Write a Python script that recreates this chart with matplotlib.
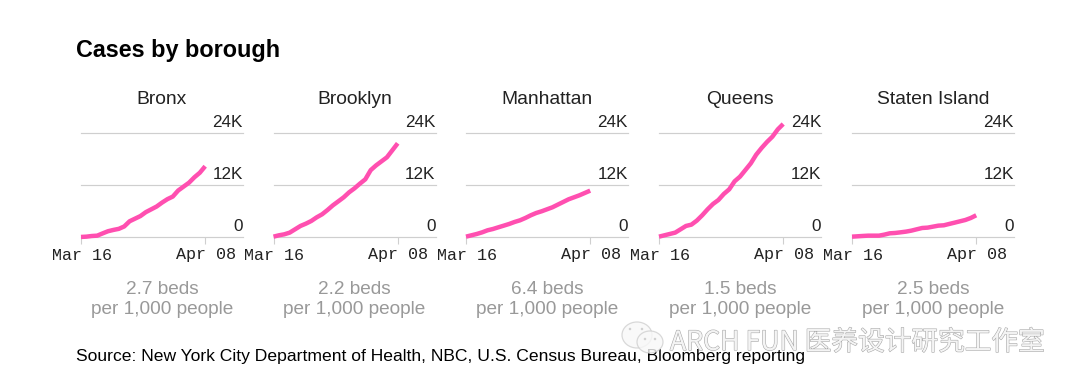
import matplotlib
matplotlib.use("Agg")
import matplotlib.pyplot as plt
import matplotlib.patheffects as pe
from matplotlib.patches import Ellipse

# daily cumulative cases, Mar 16 to Apr 08
days = list(range(24))
boroughs = ["Bronx", "Brooklyn", "Manhattan", "Queens", "Staten Island"]
bronx = [80, 150, 300, 380, 900, 1400, 1700, 1950, 2500, 3700, 4300, 4900, 5800,
         6450, 7100, 8000, 8800, 9400, 10800, 11700, 12600, 13850, 14900, 16400]
brooklyn = [150, 460, 690, 1080, 1850, 2620, 3150, 3770, 4610, 5310, 6300, 7380,
            8300, 9230, 10380, 11300, 12380, 13380, 15500, 16600, 17530, 18460, 20070, 21690]
manhattan = [150, 460, 770, 1150, 1620, 1920, 2310, 2690, 3080, 3540, 3920, 4460,
             5080, 5610, 6000, 6460, 6920, 7540, 8150, 8770, 9230, 9690, 10230, 10770]
queens = [150, 460, 770, 1080, 1850, 2620, 2920, 3850, 5080, 6460, 7690, 8610, 10000,
          11070, 12920, 14000, 15530, 17070, 19070, 20610, 22000, 23220, 24910, 26150]
staten = [150, 230, 310, 380, 380, 380, 620, 920, 1000, 1150, 1310, 1540, 1850,
          2150, 2230, 2460, 2690, 2770, 3080, 3380, 3690, 4000, 4460, 5080]
series = [bronx, brooklyn, manhattan, queens, staten]
beds = ["2.7 beds", "2.2 beds", "6.4 beds", "1.5 beds", "2.5 beds"]
yticks = [0, 12000, 24000]
ytick_labels = ["0", "12K", "24K"]
x_labels = ["Mar 16", "Apr 08"]
title = "Cases by borough"
source = "Source: New York City Department of Health, NBC, U.S. Census Bureau, Bloomberg reporting"
watermark = "ARCH FUN 医养设计研究工作室"

W, H = 1080, 388
SANS = "Liberation Sans"
MONO = "Liberation Mono"
PINK = "#ff4fb0"
GRID = "#cfcfcf"


def fx(px):
    return px / W


def fy(px):
    return 1 - px / H


def main():
    fig = plt.figure(figsize=(W / 100, H / 100), dpi=100, facecolor="white")

    fig.text(fx(76), fy(50.5), title, fontsize=16.8, fontweight="bold", family=SANS,
             color="black", va="center", ha="left")

    lefts = [81, 273.5, 466, 659, 852]
    for i, left in enumerate(lefts):
        ax = fig.add_axes([fx(left), fy(237.3), 162 / W, 104 / H])
        ax.patch.set_alpha(0)
        ax.set_xlim(0, 30)
        ax.set_ylim(0, 24000)
        for s in ax.spines.values():
            s.set_visible(False)
        ax.set_yticks([])
        ax.set_xticks([0, 23])
        ax.set_xticklabels([])
        ax.tick_params(axis="x", length=5, width=0.8, color=GRID)
        for v in yticks:
            ax.axhline(v, color=GRID, lw=0.85, zorder=1, clip_on=False)
        for v, lab in zip(yticks, ytick_labels):
            ax.text(1.0, v + 800, lab, transform=ax.get_yaxis_transform(),
                    fontsize=12.3, family=SANS, color="#222222", ha="right", va="bottom",
                    clip_on=False)
        ax.plot(days, series[i], color=PINK, lw=3.2, solid_capstyle="butt",
                solid_joinstyle="round", zorder=3, clip_on=False)

        cx = left + 81
        fig.text(fx(cx), fy(99.5), boroughs[i], fontsize=13.9, family=SANS, color="#222222",
                 ha="center", va="center")
        fig.text(fx(left + 1), fy(255), x_labels[0], fontsize=12.1, family=MONO, color="#222222",
                 ha="center", va="center")
        fig.text(fx(left + 125), fy(255), x_labels[1], fontsize=12.1, family=MONO,
                 color="#222222", ha="center", va="center")
        fig.text(fx(cx), fy(290), beds[i], fontsize=13.7, family=SANS, color="#999999",
                 ha="center", va="center")
        fig.text(fx(cx), fy(309.5), "per 1,000 people", fontsize=13.7, family=SANS,
                 color="#999999", ha="center", va="center")

    fig.text(fx(76), fy(356), source, fontsize=12.6, family=SANS, color="black",
             va="center", ha="left")

    # watermark, with the two chat bubbles of the logo
    wm = fig.text(fx(670), fy(342.5), watermark, fontsize=19.2,
                  family=["Noto Sans CJK SC", "DejaVu Sans"], color="#f4f4f4",
                  va="center", ha="left", zorder=10)
    wm.set_path_effects([pe.withStroke(linewidth=0.8, foreground="#a8a8a8")])
    over = fig.add_axes([0, 0, 1, 1], zorder=9)
    over.set_xlim(0, W)
    over.set_ylim(H, 0)
    over.axis("off")
    over.patch.set_alpha(0)
    over.add_patch(Ellipse((637, 335), 30, 26, fc="#f8f8f8", ec="#d0d0d0", lw=0.9, alpha=0.8))
    over.add_patch(Ellipse((650, 342), 26, 22, fc="#f8f8f8", ec="#d0d0d0", lw=0.9, alpha=0.8))
    for ex, ey in [(630, 329), (642, 329), (645, 339), (655, 339)]:
        over.add_patch(Ellipse((ex, ey), 2.5, 2.5, fc="#d0d0d0", ec="none"))

    fig.savefig("out.png", dpi=100)


if __name__ == "__main__":
    main()
